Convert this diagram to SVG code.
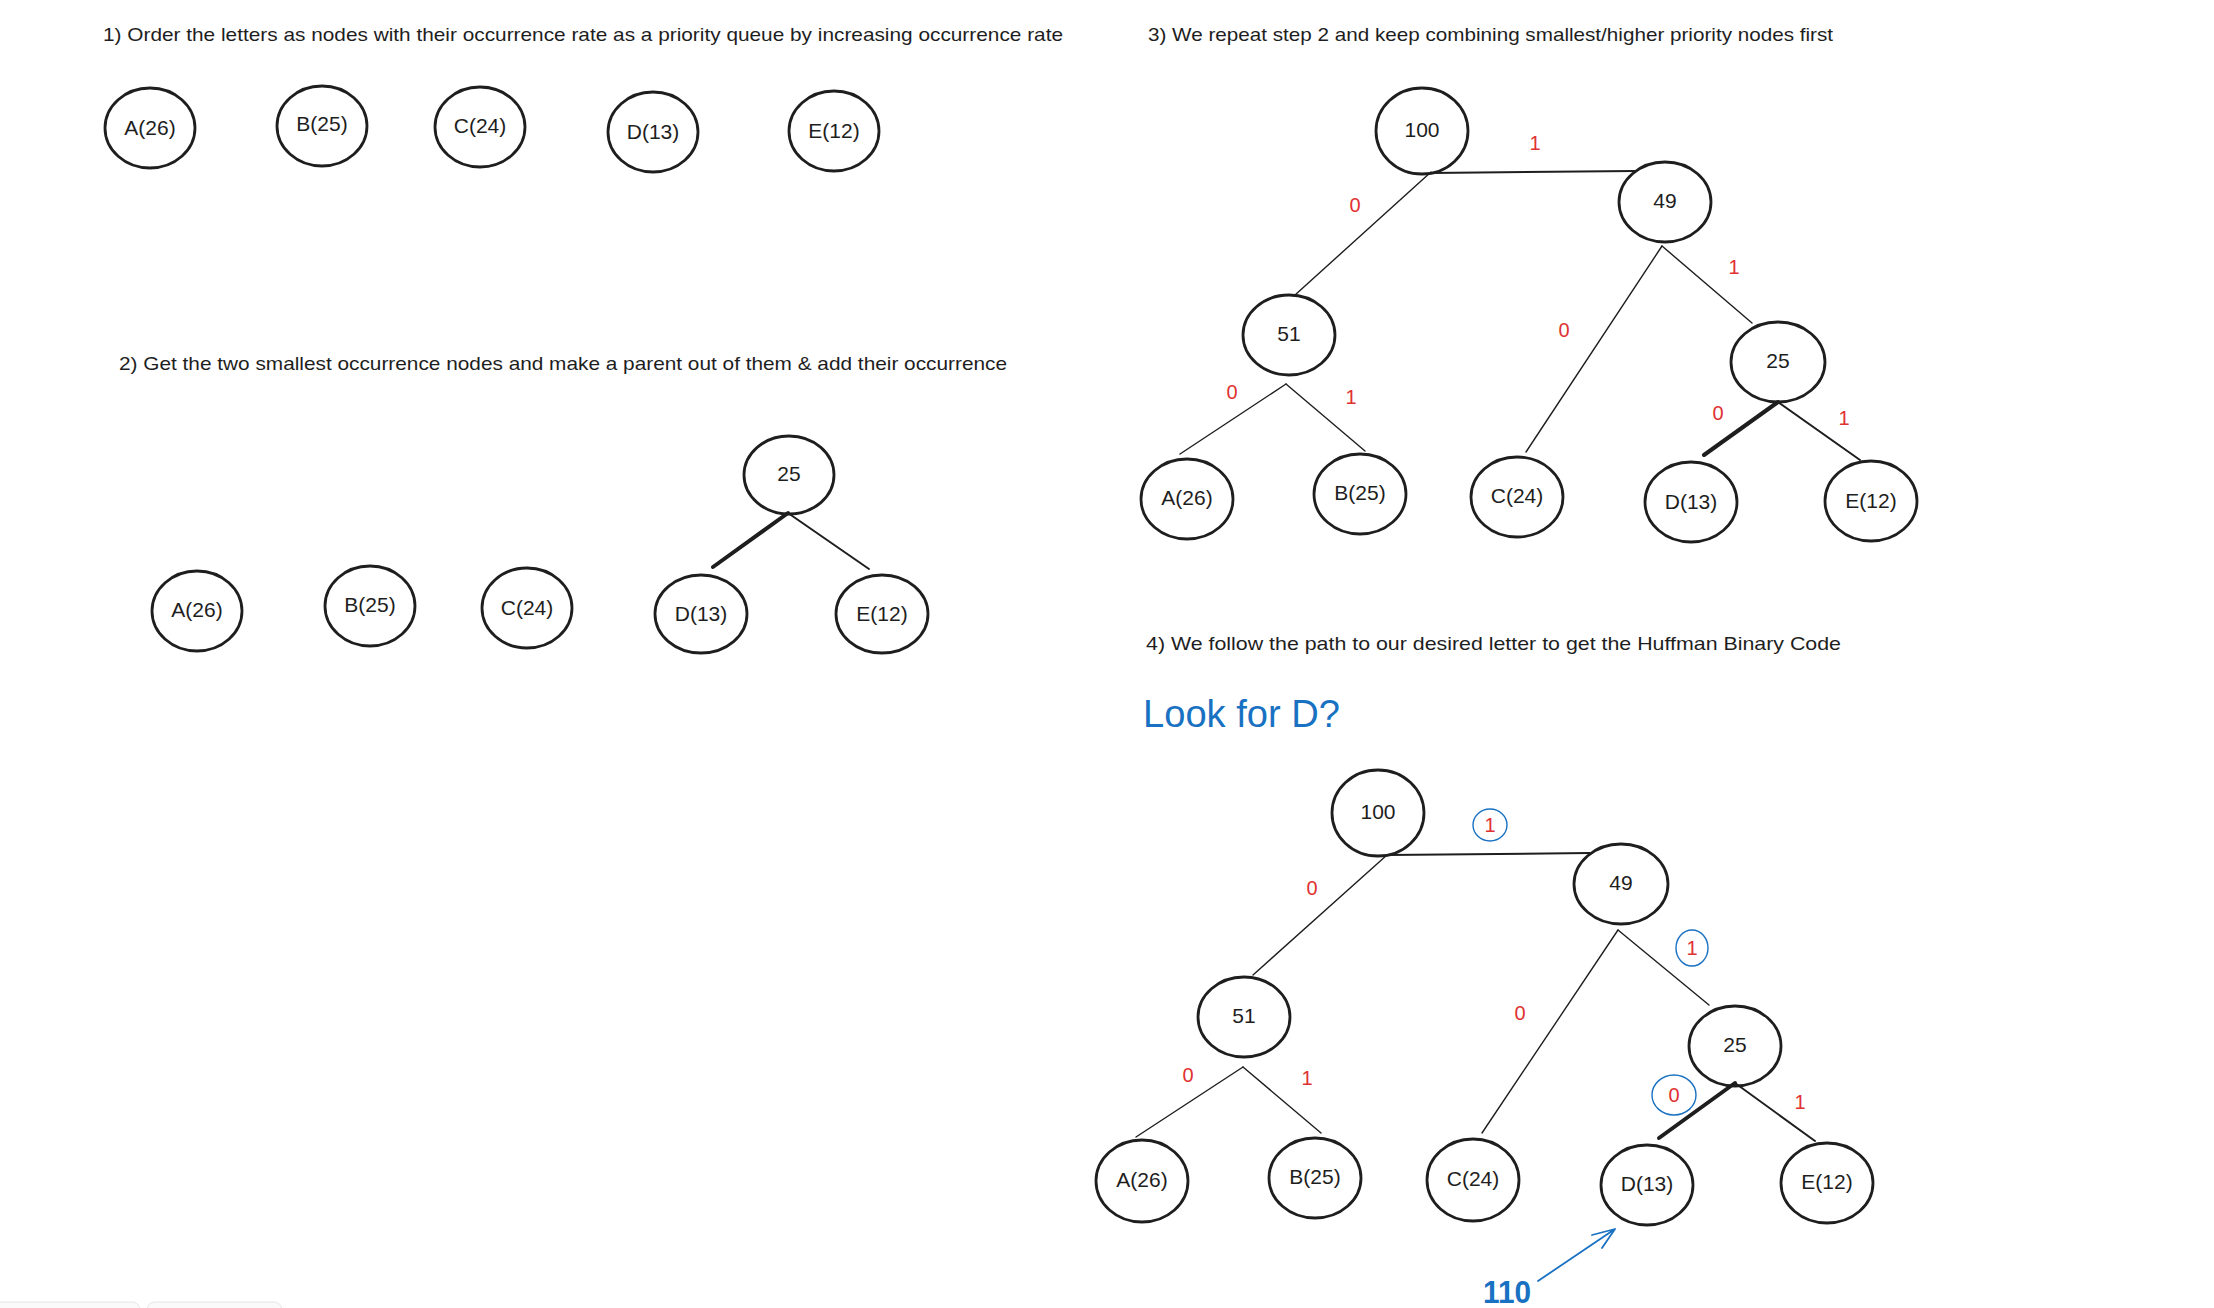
<svg xmlns="http://www.w3.org/2000/svg" width="2214" height="1308" viewBox="0 0 2214 1308">
<style>
.n{fill:none;stroke:#1e1e1e;stroke-width:2.8}
.t{font-family:"Liberation Sans","DejaVu Sans",sans-serif;font-size:21px;fill:#1e1e1e;text-anchor:middle}
.h{font-family:"Liberation Sans","DejaVu Sans",sans-serif;font-size:19px;fill:#1e1e1e}
.e{stroke:#1e1e1e;stroke-width:1.4;fill:none;stroke-linecap:round}
.k{stroke:#1e1e1e;stroke-width:4;fill:none;stroke-linecap:round}
.m{stroke:#1e1e1e;stroke-width:2;fill:none;stroke-linecap:round}
.r{font-family:"Liberation Sans","DejaVu Sans",sans-serif;font-size:20px;fill:#e03131;text-anchor:middle}
.b{fill:none;stroke:#1971c2;stroke-width:1.4}
.bl{fill:#1971c2;font-family:"Liberation Sans","DejaVu Sans",sans-serif}
</style>
<rect width="2214" height="1308" fill="#ffffff"/>
<g id="ui">
<rect x="-10" y="1302" width="150" height="20" rx="8" fill="#fafafa" stroke="#e6e6e6"/>
<rect x="147" y="1302" width="135" height="20" rx="8" fill="#fafafa" stroke="#e6e6e6"/>
</g>
<g id="titles">
<text class="h" x="103" y="41" textLength="960" lengthAdjust="spacingAndGlyphs">1) Order the letters as nodes with their occurrence rate as a priority queue by increasing occurrence rate</text>
<text class="h" x="119" y="370" textLength="888" lengthAdjust="spacingAndGlyphs">2) Get the two smallest occurrence nodes and make a parent out of them &amp; add their occurrence</text>
<text class="h" x="1148" y="41" textLength="685" lengthAdjust="spacingAndGlyphs">3) We repeat step 2 and keep combining smallest/higher priority nodes first</text>
<text class="h" x="1146" y="650" textLength="695" lengthAdjust="spacingAndGlyphs">4) We follow the path to our desired letter to get the Huffman Binary Code</text>
<text class="bl" x="1143" y="727" font-size="38" textLength="197" lengthAdjust="spacingAndGlyphs">Look for D?</text>
</g>
<g id="connectors">
<line class="k" x1="788" y1="513" x2="713" y2="567"/>
<line class="m" x1="788" y1="513" x2="869" y2="569"/>
<line class="m" x1="1431" y1="173" x2="1635" y2="171"/>
<line class="e" x1="1431" y1="172" x2="1295" y2="295"/>
<line class="e" x1="1662" y1="246" x2="1526" y2="452"/>
<line class="e" x1="1662" y1="246" x2="1752" y2="323"/>
<line class="e" x1="1286" y1="384" x2="1180" y2="454"/>
<line class="e" x1="1286" y1="384" x2="1365" y2="451"/>
<line class="k" x1="1778" y1="402" x2="1704" y2="455"/>
<line class="m" x1="1778" y1="402" x2="1860" y2="460"/>
<line class="m" x1="1387" y1="855" x2="1590" y2="853"/>
<line class="e" x1="1387" y1="855" x2="1253" y2="975"/>
<line class="e" x1="1618" y1="930" x2="1482" y2="1133"/>
<line class="e" x1="1618" y1="930" x2="1709" y2="1005"/>
<line class="e" x1="1243" y1="1067" x2="1136" y2="1137"/>
<line class="e" x1="1243" y1="1067" x2="1321" y2="1133"/>
<line class="k" x1="1735" y1="1083" x2="1659" y2="1138"/>
<line class="m" x1="1735" y1="1083" x2="1815" y2="1141"/>
<path d="M1538 1281 L1615 1229 M1592 1235 L1615 1229 L1602 1248" fill="none" stroke="#1971c2" stroke-width="1.8" stroke-linecap="round" stroke-linejoin="round"/>
</g>
<g id="labels">
<text class="r" x="1535" y="150">1</text>
<text class="r" x="1355" y="212">0</text>
<text class="r" x="1734" y="274">1</text>
<text class="r" x="1232" y="399">0</text>
<text class="r" x="1351" y="404">1</text>
<text class="r" x="1564" y="337">0</text>
<text class="r" x="1718" y="420">0</text>
<text class="r" x="1844" y="425">1</text>
<ellipse class="b" cx="1490" cy="825" rx="17" ry="16"/>
<text class="r" x="1490" y="832">1</text>
<text class="r" x="1312" y="895">0</text>
<ellipse class="b" cx="1692" cy="948" rx="16" ry="18"/>
<text class="r" x="1692" y="955">1</text>
<text class="r" x="1188" y="1082">0</text>
<text class="r" x="1307" y="1085">1</text>
<text class="r" x="1520" y="1020">0</text>
<ellipse class="b" cx="1674" cy="1095" rx="22" ry="20"/>
<text class="r" x="1674" y="1102">0</text>
<text class="r" x="1800" y="1109">1</text>
<text class="bl" x="1483" y="1303" font-size="32" font-weight="bold" textLength="48" lengthAdjust="spacingAndGlyphs">110</text>
</g>
<g id="step1">
<g id="s1-A"><ellipse class="n" cx="150" cy="128" rx="45" ry="40"/><text class="t" x="150" y="135">A(26)</text></g>
<g id="s1-B"><ellipse class="n" cx="322" cy="126" rx="45" ry="40"/><text class="t" x="322" y="131">B(25)</text></g>
<g id="s1-C"><ellipse class="n" cx="480" cy="127" rx="45" ry="40"/><text class="t" x="480" y="133">C(24)</text></g>
<g id="s1-D"><ellipse class="n" cx="653" cy="132" rx="45" ry="40"/><text class="t" x="653" y="139">D(13)</text></g>
<g id="s1-E"><ellipse class="n" cx="834" cy="131" rx="45" ry="40"/><text class="t" x="834" y="138">E(12)</text></g>
</g>
<g id="step2">
<g id="s2-25"><ellipse class="n" cx="789" cy="475" rx="45" ry="39"/><text class="t" x="789" y="481">25</text></g>
<g id="s2-A"><ellipse class="n" cx="197" cy="611" rx="45" ry="40"/><text class="t" x="197" y="617">A(26)</text></g>
<g id="s2-B"><ellipse class="n" cx="370" cy="606" rx="45" ry="40"/><text class="t" x="370" y="612">B(25)</text></g>
<g id="s2-C"><ellipse class="n" cx="527" cy="608" rx="45" ry="40"/><text class="t" x="527" y="615">C(24)</text></g>
<g id="s2-D"><ellipse class="n" cx="701" cy="614" rx="46" ry="39"/><text class="t" x="701" y="621">D(13)</text></g>
<g id="s2-E"><ellipse class="n" cx="882" cy="614" rx="46" ry="39"/><text class="t" x="882" y="621">E(12)</text></g>
</g>
<g id="step3">
<g id="s3-100"><ellipse class="n" cx="1422" cy="131" rx="46" ry="43"/><text class="t" x="1422" y="137">100</text></g>
<g id="s3-49"><ellipse class="n" cx="1665" cy="202" rx="46" ry="40"/><text class="t" x="1665" y="208">49</text></g>
<g id="s3-51"><ellipse class="n" cx="1289" cy="335" rx="46" ry="40"/><text class="t" x="1289" y="341">51</text></g>
<g id="s3-25"><ellipse class="n" cx="1778" cy="362" rx="47" ry="40"/><text class="t" x="1778" y="368">25</text></g>
<g id="s3-A"><ellipse class="n" cx="1187" cy="499" rx="46" ry="40"/><text class="t" x="1187" y="505">A(26)</text></g>
<g id="s3-B"><ellipse class="n" cx="1360" cy="494" rx="46" ry="40"/><text class="t" x="1360" y="500">B(25)</text></g>
<g id="s3-C"><ellipse class="n" cx="1517" cy="497" rx="46" ry="40"/><text class="t" x="1517" y="503">C(24)</text></g>
<g id="s3-D"><ellipse class="n" cx="1691" cy="502" rx="46" ry="40"/><text class="t" x="1691" y="509">D(13)</text></g>
<g id="s3-E"><ellipse class="n" cx="1871" cy="501" rx="46" ry="40"/><text class="t" x="1871" y="508">E(12)</text></g>
</g>
<g id="step4">
<g id="s4-100"><ellipse class="n" cx="1378" cy="813" rx="46" ry="43"/><text class="t" x="1378" y="819">100</text></g>
<g id="s4-49"><ellipse class="n" cx="1621" cy="884" rx="47" ry="40"/><text class="t" x="1621" y="890">49</text></g>
<g id="s4-51"><ellipse class="n" cx="1244" cy="1017" rx="46" ry="40"/><text class="t" x="1244" y="1023">51</text></g>
<g id="s4-25"><ellipse class="n" cx="1735" cy="1046" rx="46" ry="40"/><text class="t" x="1735" y="1052">25</text></g>
<g id="s4-A"><ellipse class="n" cx="1142" cy="1181" rx="46" ry="41"/><text class="t" x="1142" y="1187">A(26)</text></g>
<g id="s4-B"><ellipse class="n" cx="1315" cy="1178" rx="46" ry="40"/><text class="t" x="1315" y="1184">B(25)</text></g>
<g id="s4-C"><ellipse class="n" cx="1473" cy="1180" rx="46" ry="41"/><text class="t" x="1473" y="1186">C(24)</text></g>
<g id="s4-D"><ellipse class="n" cx="1647" cy="1185" rx="46" ry="40"/><text class="t" x="1647" y="1191">D(13)</text></g>
<g id="s4-E"><ellipse class="n" cx="1827" cy="1183" rx="46" ry="40"/><text class="t" x="1827" y="1189">E(12)</text></g>
</g>
</svg>
